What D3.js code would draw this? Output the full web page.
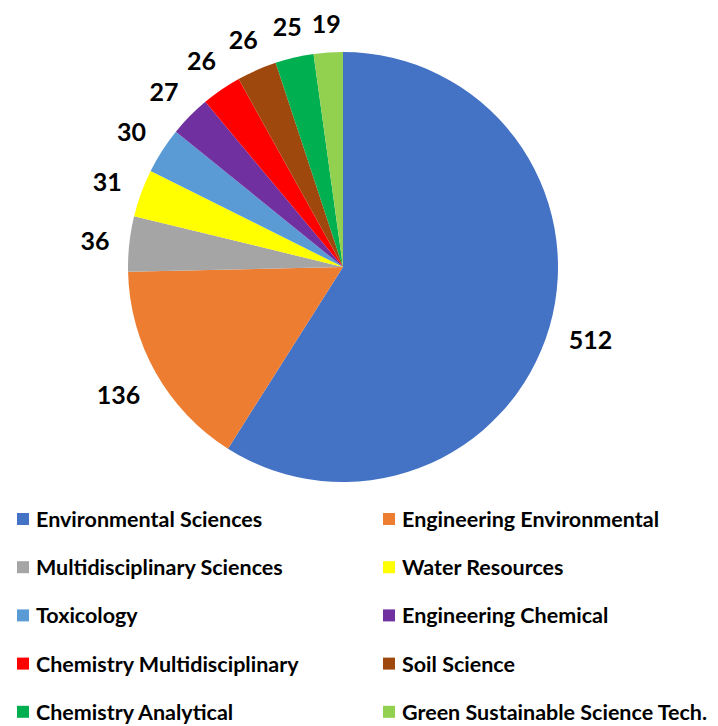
<!DOCTYPE html>
<html>
<head>
<meta charset="utf-8">
<script src="https://cdn.jsdelivr.net/npm/d3@7"></script>
<style>
  body { margin: 0; background: #fff; }
  svg { display: block; font-family: Lato, "Open Sans", sans-serif; }
</style>
</head>
<body>
<svg id="chart" width="718" height="726"></svg>
<script>
// categories and counts, clockwise from 12 o'clock
const categories = [
    "Environmental Sciences", "Engineering Environmental", "Multidisciplinary Sciences",
    "Water Resources", "Toxicology", "Engineering Chemical",
    "Chemistry Multidisciplinary", "Soil Science", "Chemistry Analytical",
    "Green Sustainable Science Tech."
];
const counts = [512, 136, 36, 31, 30, 27, 26, 26, 25, 19];
const colors = ["#4472c4", "#ed7d31", "#a5a5a5", "#ffff00", "#5b9bd5",
    "#7030a0", "#ff0000", "#9e480e", "#00b050", "#92d050"];

const data = categories.map((c, i) => ({ name: c, value: counts[i] }));

const radius = 215;
const cx = 343, cy = 267;

const color = d3.scaleOrdinal().domain(categories).range(colors);

const svg = d3.select("#chart");
const g = svg.append("g").attr("transform", `translate(${cx},${cy})`);

const pie = d3.pie().value(d => d.value).sort(null);
const arc = d3.arc().innerRadius(0).outerRadius(radius);

const arcs = pie(data);

g.selectAll("path")
    .data(arcs)
    .enter()
    .append("path")
    .attr("d", arc)
    .attr("fill", d => color(d.data.name));

// outside-end labels
const labels = g.selectAll(".lbl")
    .data(arcs)
    .enter()
    .append("text")
    .attr("class", "lbl")
    .attr("text-anchor", "middle")
    .attr("dominant-baseline", "central")
    .style("font-size", "25px")
    .style("font-weight", "bold")
    .style("fill", "#000")
    .text(d => d.data.value);

labels.each(function (d) {
    const box = this.getBBox();
    const a = (d.startAngle + d.endAngle) / 2;
    const ux = Math.sin(a), uy = -Math.cos(a);
    const off = radius + 19 + Math.abs(ux) * box.width / 2 + Math.abs(uy) * 10;
    d3.select(this).attr("x", ux * off).attr("y", uy * off);
});

// legend, two columns
const legendX = [17, 383];
const legendY0 = 519, legendStep = 48.2;

const legend = svg.append("g");
const items = legend.selectAll("g")
    .data(categories)
    .enter()
    .append("g")
    .attr("transform", (d, i) => `translate(${legendX[i % 2]}, ${legendY0 + Math.floor(i / 2) * legendStep})`);

items.append("rect")
    .attr("x", 0)
    .attr("y", -6)
    .attr("width", 12)
    .attr("height", 12)
    .attr("fill", d => color(d));

items.append("text")
    .attr("x", 19)
    .attr("y", 0)
    .attr("dominant-baseline", "central")
    .style("font-size", "21.5px")
    .style("font-weight", "bold")
    .style("fill", "#000")
    .text(d => d);
</script>
</body>
</html>
